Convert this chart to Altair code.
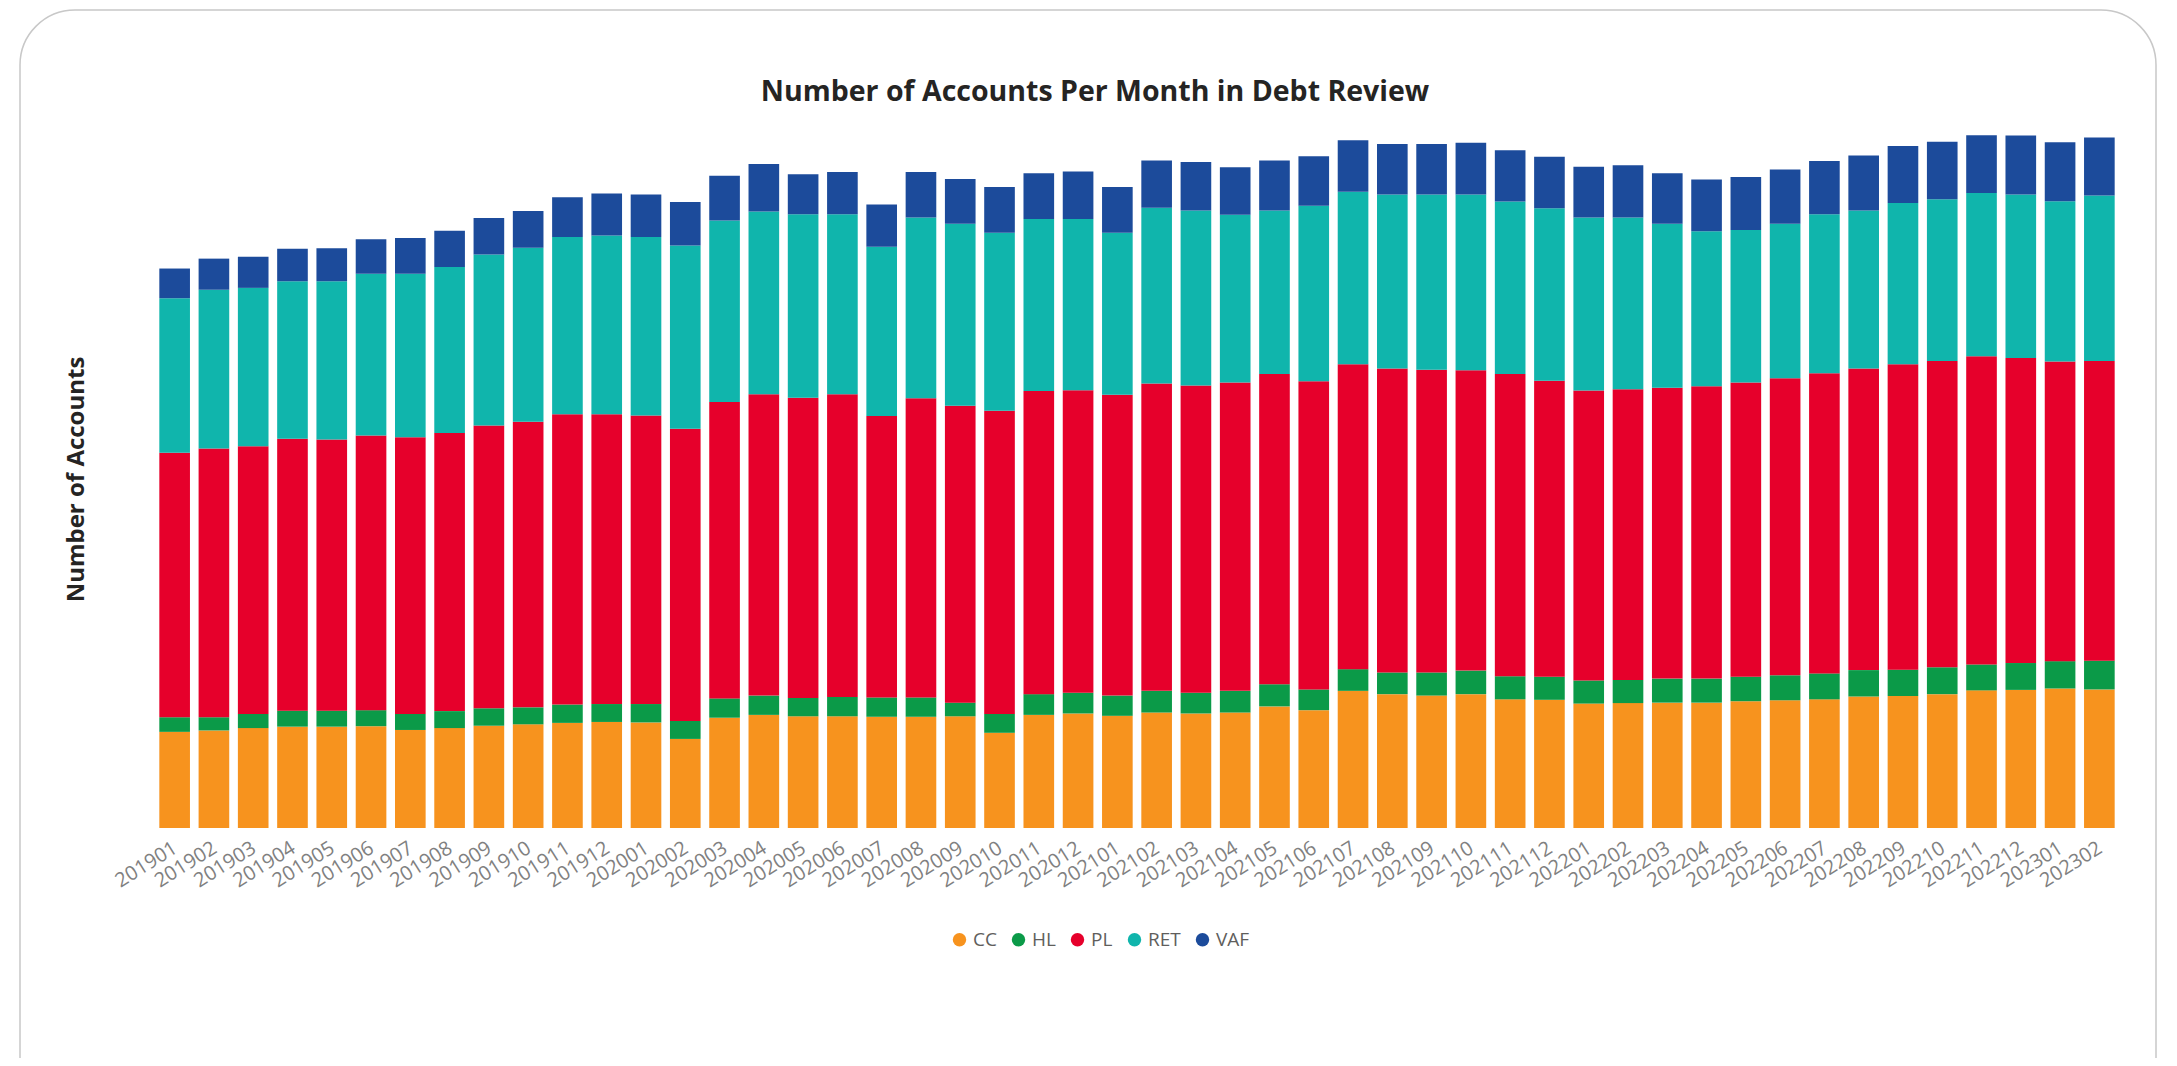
import altair as alt
import pandas as pd

months = [
    "201901", "201902", "201903", "201904", "201905", "201906", "201907", "201908", "201909", "201910", "201911", "201912",
    "202001", "202002", "202003", "202004", "202005", "202006", "202007", "202008", "202009", "202010", "202011", "202012",
    "202101", "202102", "202103", "202104", "202105", "202106", "202107", "202108", "202109", "202110", "202111", "202112",
    "202201", "202202", "202203", "202204", "202205", "202206", "202207", "202208", "202209", "202210", "202211", "202212",
    "202301", "202302",
]

cc = [204, 207, 212, 215, 215, 216, 208, 212, 217, 220, 223, 225,
      224, 189, 234, 240, 237, 237, 236, 236, 237, 202, 240, 243,
      238, 245, 243, 245, 258, 250, 291, 284, 281, 284, 273, 272,
      264, 265, 266, 266, 269, 271, 273, 279, 280, 284, 292, 293,
      296, 294]
hl = [31, 28, 30, 34, 34, 34, 34, 36, 37, 36, 39, 38,
      39, 38, 41, 41, 39, 41, 41, 41, 29, 40, 44, 44,
      43, 46, 44, 46, 47, 44, 46, 46, 49, 50, 49, 49,
      49, 49, 51, 51, 52, 53, 55, 56, 56, 57, 55, 57,
      58, 61]
pl = [561, 570, 568, 577, 575, 583, 587, 590, 600, 606, 616, 615,
      612, 620, 629, 639, 637, 642, 597, 635, 630, 643, 643, 642,
      638, 652, 652, 654, 658, 654, 647, 645, 642, 637, 641, 628,
      615, 617, 617, 620, 624, 630, 637, 640, 648, 650, 654, 647,
      636, 636]
ret = [328, 337, 336, 334, 336, 343, 347, 352, 363, 369, 376, 379,
       379, 389, 385, 388, 389, 382, 359, 383, 386, 378, 365, 363,
       344, 373, 371, 356, 347, 372, 366, 369, 372, 373, 366, 366,
       367, 364, 348, 329, 324, 328, 337, 335, 342, 343, 346, 347,
       340, 351]
vaf = [63, 66, 66, 69, 70, 73, 76, 77, 77, 78, 84, 89,
       90, 92, 95, 101, 85, 90, 90, 97, 95, 97, 97, 101,
       97, 100, 103, 101, 106, 105, 109, 107, 107, 110, 109, 109,
       108, 111, 107, 110, 112, 115, 113, 117, 121, 122, 123, 125,
       125, 123]

series = ["CC", "HL", "PL", "RET", "VAF"]
colors = ["#F7931E", "#0B9A48", "#E6002B", "#10B5AC", "#1C4B9B"]
title_text = "Number of Accounts Per Month in Debt Review"

rows = []
for i, (name, vals) in enumerate(zip(series, [cc, hl, pl, ret, vaf])):
    for m, v in zip(months, vals):
        rows.append({"month": m, "product": name, "accounts": v, "order": i})
df = pd.DataFrame(rows)

FONT = "Open Sans"

bars = alt.Chart(df).mark_bar().encode(
    x=alt.X(
        "month:N",
        sort=months,
        scale=alt.Scale(paddingInner=0.22, paddingOuter=0.11),
        axis=alt.Axis(
            title=None, labelAngle=328, labelAlign="right", labelBaseline="middle",
            labelFontSize=20, labelColor="#808080", labelFont=FONT,
            ticks=False, domain=False, labelPadding=18, labelOffset=1,
            labelOverlap=False,
        ),
    ),
    y=alt.Y(
        "accounts:Q",
        stack="zero",
        scale=alt.Scale(domain=[0, 1500], nice=False),
        axis=alt.Axis(
            title="Number of Accounts", labels=False, ticks=False, domain=False, grid=False,
            titleFontSize=24, titleFont=FONT, titleFontWeight="bold", titleColor="#252423",
            titleX=-67, titleY=358, titleAngle=270,
        ),
    ),
    color=alt.Color(
        "product:N",
        scale=alt.Scale(domain=series, range=colors),
        legend=alt.Legend(
            title=None, orient="none", legendX=795, legendY=809, direction="horizontal",
            symbolType="circle", symbolSize=180, symbolStrokeWidth=0,
            labelFontSize=19, labelFont=FONT, labelColor="#605E5C",
            columnPadding=12, labelOffset=4, padding=0,
        ),
    ),
    order=alt.Order("order:Q", sort="ascending"),
)

card = alt.Chart(alt.Data(values=[{"k": 1}])).mark_rect(
    cornerRadius=55, fillOpacity=0, stroke="#c8c8c8", strokeWidth=1.5
).encode(
    x=alt.value(-135), x2=alt.value(2001), y=alt.value(-111), y2=alt.value(1000)
)

title = alt.Chart(alt.Data(values=[{"t": title_text}])).mark_text(
    font=FONT, fontSize=28.5, fontWeight="bold", color="#252423",
    align="center", baseline="middle",
).encode(
    text="t:N", x=alt.value(940), y=alt.value(-29)
)

chart = alt.layer(card, bars, title).properties(
    width=1964,
    height=707,
    autosize=alt.AutoSizeParams(type="none"),
    padding={"left": 147, "top": 113, "right": 50, "bottom": 230},
).configure_view(stroke=None)

chart.save("out.html", embed_options={"renderer": "svg", "actions": False})
